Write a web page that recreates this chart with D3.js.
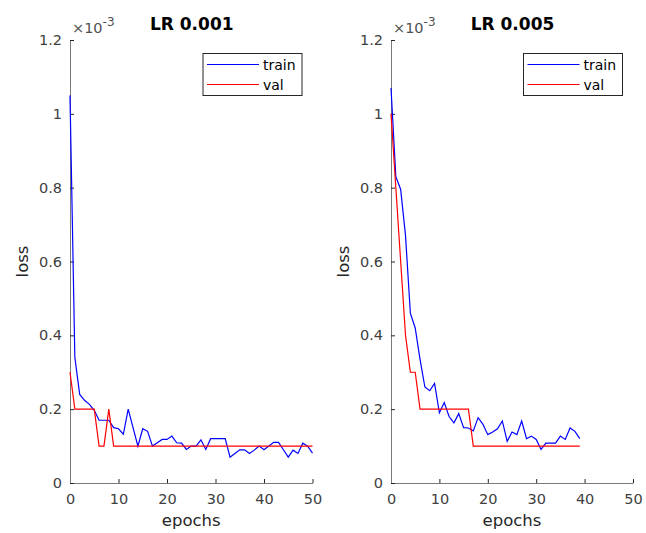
<!DOCTYPE html>
<html>
<head>
<meta charset="utf-8">
<script src="https://cdn.jsdelivr.net/npm/d3@7"></script>
<style>
  html, body { margin: 0; padding: 0; background: #fff; }
  svg { display: block; font-family: "DejaVu Sans", sans-serif; }
</style>
</head>
<body>
<svg id="chart" width="646" height="533"></svg>
<script>
// ---- data (loss values in units of 1e-3) ----
const exponentLabel = "-3";
const yTicks = [0, 0.2, 0.4, 0.6, 0.8, 1, 1.2];
const xTicks = [0, 10, 20, 30, 40, 50];
const titles = ["LR 0.001", "LR 0.005"];
const legendLabels = ["train", "val"];

const trainLR001 = [1.05, 0.34, 0.24, 0.224, 0.213, 0.197, 0.17, 0.17, 0.17, 0.15,
  0.147, 0.132, 0.2, 0.15, 0.1, 0.147, 0.14, 0.1, 0.109, 0.118,
  0.118, 0.127, 0.109, 0.108, 0.091, 0.1, 0.1, 0.117, 0.091, 0.12,
  0.12, 0.12, 0.12, 0.07, 0.08, 0.09, 0.09, 0.08, 0.089, 0.1,
  0.09, 0.1, 0.11, 0.11, 0.09, 0.07, 0.089, 0.08, 0.108, 0.1, 0.081];
const valLR001 = [0.3, 0.2, 0.2, 0.2, 0.2, 0.2, 0.1, 0.1, 0.2, 0.1,
  0.1, 0.1, 0.1, 0.1, 0.1, 0.1, 0.1, 0.1, 0.1, 0.1,
  0.1, 0.1, 0.1, 0.1, 0.1, 0.1, 0.1, 0.1, 0.1, 0.1,
  0.1, 0.1, 0.1, 0.1, 0.1, 0.1, 0.1, 0.1, 0.1, 0.1,
  0.1, 0.1, 0.1, 0.1, 0.1, 0.1, 0.1, 0.1, 0.1, 0.1, 0.1];

const trainLR005 = [1.07, 0.83, 0.795, 0.67, 0.46, 0.42, 0.335, 0.26, 0.25, 0.27,
  0.19, 0.218, 0.18, 0.163, 0.188, 0.15, 0.149, 0.141, 0.177, 0.159,
  0.131, 0.138, 0.147, 0.168, 0.113, 0.138, 0.131, 0.168, 0.12, 0.127,
  0.118, 0.091, 0.108, 0.108, 0.108, 0.127, 0.118, 0.149, 0.14, 0.12];
const valLR005 = [1.0, 0.8, 0.6, 0.4, 0.3, 0.3, 0.2, 0.2, 0.2, 0.2,
  0.2, 0.2, 0.2, 0.2, 0.2, 0.2, 0.2, 0.1, 0.1, 0.1,
  0.1, 0.1, 0.1, 0.1, 0.1, 0.1, 0.1, 0.1, 0.1, 0.1,
  0.1, 0.1, 0.1, 0.1, 0.1, 0.1, 0.1, 0.1, 0.1, 0.1];

const panels = [
  { title: titles[0], train: trainLR001, val: valLR001, x0: 70, x1: 312.5 },
  { title: titles[1], train: trainLR005, val: valLR005, x0: 391, x1: 633 }
];

const svg = d3.select("#chart");
const yTop = 40, yBot = 483;
const y = d3.scaleLinear().domain([0, 1.2]).range([yBot, yTop]);

panels.forEach(p => {
  const x = d3.scaleLinear().domain([0, 50]).range([p.x0, p.x1]);
  const g = svg.append("g");

  // x axis
  const xa = g.append("g").attr("transform", `translate(0,${yBot})`)
    .call(d3.axisBottom(x).tickValues(xTicks).tickFormat(d3.format("d"))
      .tickSizeInner(-4).tickSizeOuter(0).tickPadding(11));
  // y axis
  const ya = g.append("g").attr("transform", `translate(${p.x0},0)`)
    .call(d3.axisLeft(y).tickValues(yTicks).tickFormat(d => String(d))
      .tickSizeInner(-4).tickSizeOuter(0).tickPadding(8));

  [xa, ya].forEach(a => {
    a.select(".domain").attr("stroke", "#7a7a7a").attr("stroke-width", 1);
    a.selectAll(".tick line").attr("stroke", "#262626");
    a.selectAll(".tick text").attr("fill", "#404040")
      .style("font-size", "14.5px").style("font-family", "DejaVu Sans");
  });

  // exponent label
  const ex = g.append("text").attr("x", p.x0 + 2).attr("y", 33)
    .attr("fill", "#505050").style("font-size", "14.5px");
  ex.append("tspan").text("\u00d710");
  ex.append("tspan").attr("dy", -7).style("font-size", "12px").text(exponentLabel);

  // lines
  const line = d3.line().x((d, i) => x(i)).y(d => y(d));
  g.append("path").datum(p.train).attr("d", line)
    .attr("fill", "none").attr("stroke", "#0000ff").attr("stroke-width", 1.2);
  g.append("path").datum(p.val).attr("d", line)
    .attr("fill", "none").attr("stroke", "#ff0000").attr("stroke-width", 1.2);

  // title
  g.append("text").attr("x", (p.x0 + p.x1) / 2 + 0.5).attr("y", 30)
    .attr("text-anchor", "middle").style("font-weight", "bold")
    .style("font-size", "17px").attr("fill", "#000").text(p.title);

  // axis labels
  g.append("text").attr("x", (p.x0 + p.x1) / 2).attr("y", 526)
    .attr("text-anchor", "middle").attr("fill", "#262626")
    .style("font-size", "16.5px").text("epochs");
  g.append("text")
    .attr("transform", `translate(${p.x0 - 42},${(yTop + yBot) / 2}) rotate(-90)`)
    .attr("text-anchor", "middle").attr("fill", "#262626")
    .style("font-size", "16.5px").text("loss");

  // legend
  const lx = p.x1 - 109.5, ly = 53.5;
  const lg = g.append("g").attr("transform", `translate(${lx},${ly})`);
  lg.append("rect").attr("width", 99).attr("height", 42)
    .attr("fill", "#fff").attr("stroke", "#262626").attr("stroke-width", 1);
  const colors = ["#0000ff", "#ff0000"];
  legendLabels.forEach((lab, i) => {
    const yy = 11 + i * 20;
    lg.append("line").attr("x1", 4).attr("x2", 56).attr("y1", yy).attr("y2", yy)
      .attr("stroke", colors[i]).attr("stroke-width", 1.2);
    lg.append("text").attr("x", 60).attr("y", yy).attr("dy", "0.36em")
      .attr("fill", "#000").style("font-size", "14px").text(lab);
  });
});
</script>
</body>
</html>
